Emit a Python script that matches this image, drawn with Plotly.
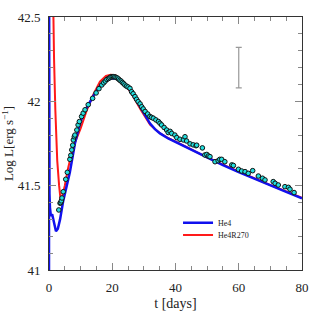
import plotly.graph_objects as go

# Observed light curve
obs_t = [3.1, 3.5, 3.7, 3.9, 4.1, 4.5, 5.3, 5.8, 6.6, 6.9, 7.2, 7.5, 7.7, 8.0, 8.2, 8.8, 9.2, 9.6,
         10.3, 10.8, 11.4, 12.4, 13.8, 14.9, 15.8, 16.7, 17.3, 17.8, 18.3, 18.8, 19.2, 19.6, 20.0,
         20.4, 20.8, 21.2, 21.6, 22.0, 22.4, 22.8, 23.2, 23.6, 24.0, 24.5, 25.0, 25.6, 26.1, 26.6,
         27.2, 27.7, 28.2, 28.8, 29.3, 29.8, 30.4, 31.2, 31.9, 32.4, 33.0, 33.8, 34.6, 35.1, 35.6,
         36.4, 37.2, 37.7, 38.3, 38.8, 39.8, 40.4, 41.4, 42.5, 43.0, 43.5, 44.6, 45.6, 46.5, 46.7,
         48.5, 49.3, 49.9, 50.4, 50.9, 52.5, 53.5, 54.0, 54.6, 55.6, 57.8, 58.3, 59.9, 60.9, 62.0,
         63.0, 64.4, 66.2, 67.5, 68.3, 70.9, 71.5, 72.5, 74.6, 75.7, 76.2, 77.5]
obs_L = [41.356, 41.396, 41.40, 41.41, 41.427, 41.464, 41.538, 41.579, 41.656, 41.68, 41.712, 41.74,
         41.771, 41.79, 41.80, 41.83, 41.86, 41.88, 41.91, 41.93, 41.95, 41.98, 42.018, 42.05, 42.075,
         42.097, 42.11, 42.12, 42.13, 42.135, 42.14, 42.145, 42.146, 42.146, 42.145, 42.142, 42.138,
         42.132, 42.125, 42.12, 42.112, 42.105, 42.097, 42.09, 42.085, 42.077, 42.057, 42.045, 42.028,
         42.012, 41.998, 41.985, 41.968, 41.955, 41.94, 41.925, 41.91, 41.905, 41.90, 41.89, 41.88,
         41.87, 41.86, 41.845, 41.83, 41.815, 41.822, 41.81, 41.80, 41.785, 41.775, 41.771, 41.79,
         41.765, 41.748, 41.742, 41.737, 41.74, 41.724, 41.682, 41.685, 41.676, 41.672, 41.642,
         41.648, 41.656, 41.656, 41.642, 41.623, 41.62, 41.597, 41.587, 41.583, 41.573, 41.589,
         41.557, 41.544, 41.534, 41.524, 41.514, 41.504, 41.494, 41.49, 41.479, 41.459]

# Model He4
he4_t = [0.0, 0.0, 0.15, 0.3, 0.6, 1.0, 1.3, 1.7, 2.2, 2.8, 3.5, 4.5, 5.6, 6.6, 8.2, 9.5, 10.9,
         12.5, 14.0, 15.5, 16.7, 18.0, 19.3, 20.9, 22.4, 24.0, 25.6, 27.2, 28.8, 30.4, 31.9, 33.5,
         35.1, 37.7, 40.4, 45.0, 50.0, 55.0, 60.0, 65.0, 70.0, 75.0, 80.0]
he4_L = [40.9, 43.0, 41.45, 41.37, 41.32, 41.33, 41.30, 41.26, 41.23, 41.245, 41.30, 41.41, 41.50,
         41.58, 41.75, 41.85, 41.93, 41.985, 42.03, 42.075, 42.105, 42.125, 42.135, 42.137, 42.127,
         42.10, 42.067, 42.02, 41.968, 41.915, 41.87, 41.835, 41.81, 41.78, 41.755, 41.71, 41.665,
         41.622, 41.58, 41.54, 41.50, 41.463, 41.425]

# Model He4R270
r270_t = [1.0, 1.25, 1.6, 2.0, 2.6, 3.2, 3.7, 4.2, 5.0, 6.0, 7.0, 8.2, 8.8, 10.0, 12.0, 14.0, 16.1,
          18.0, 19.5, 21.0, 23.0, 26.0, 29.0, 32.0, 35.0, 37.7, 40.4, 45.0, 50.0, 55.0, 60.0, 65.0,
          70.0, 75.0, 80.0]
r270_L = [43.0, 42.5, 42.25, 41.95, 41.65, 41.5, 41.41, 41.44, 41.5, 41.6, 41.68, 41.755, 41.78,
          41.84, 41.95, 42.04, 42.117, 42.15, 42.157, 42.155, 42.125, 42.05, 41.95, 41.86, 41.812,
          41.782, 41.758, 41.713, 41.668, 41.625, 41.583, 41.543, 41.503, 41.466, 41.428]

# Representative error bar
err_t = [60]
err_L = [42.2]
err_size = [0.12]

serif = "Liberation Serif"
fig = go.Figure()
fig.add_trace(go.Scatter(x=r270_t, y=r270_L, mode="lines", name="He4R270", legend="legend2",
                         line=dict(color="#ff1a1a", width=2)))
fig.add_trace(go.Scatter(x=he4_t, y=he4_L, mode="lines", name="He4", legend="legend",
                         line=dict(color="#1010ee", width=2.5)))
fig.add_trace(go.Scatter(x=obs_t, y=obs_L, mode="markers", showlegend=False,
                         marker=dict(color="#22dede", size=4.6,
                                     line=dict(color="#111111", width=1))))
fig.add_trace(go.Scatter(x=err_t, y=err_L, mode="markers", showlegend=False,
                         marker=dict(size=1, color="rgba(0,0,0,0)"),
                         error_y=dict(type="data", array=err_size, color="#999999",
                                      thickness=1.2, width=3)))

axis_common = dict(showgrid=False, zeroline=False, showline=True, linecolor="#333333",
                   linewidth=1, mirror="ticks", ticks="inside", ticklen=7, tickcolor="#888888",
                   tickwidth=1, automargin=False, ticklabelstandoff=5,
                   tickfont=dict(family=serif, size=13, color="#222222"))
fig.update_xaxes(range=[0, 80], tickvals=[0, 20, 40, 60, 80],
                 minor=dict(dtick=5, ticks="inside", ticklen=4, tickcolor="#888888"),
                 title=dict(text="t [days]", font=dict(family=serif, size=14, color="#222222"),
                            standoff=4),
                 **axis_common)
fig.update_yaxes(range=[41, 42.5], tickvals=[41, 41.5, 42, 42.5],
                 ticktext=["41", "41.5", "42", "42.5"],
                 minor=dict(dtick=0.1, ticks="inside", ticklen=4, tickcolor="#888888"),
                 title=dict(text="Log L[erg s<sup>−1</sup>]",
                            font=dict(family=serif, size=13, color="#222222"), standoff=2),
                 **axis_common)
leg_common = dict(xanchor="left", yanchor="middle", bgcolor="rgba(0,0,0,0)",
                  font=dict(family=serif, size=8, color="#222222"))
fig.update_layout(width=319, height=319, margin=dict(l=49, r=17, t=17, b=49),
                  plot_bgcolor="white", paper_bgcolor="white",
                  legend=dict(x=0.51, y=0.187, **leg_common),
                  legend2=dict(x=0.51, y=0.138, **leg_common))
fig.write_html("out.html", config={"displayModeBar": False},
               post_script="document.body.style.margin='0';document.body.style.overflow='hidden';")
